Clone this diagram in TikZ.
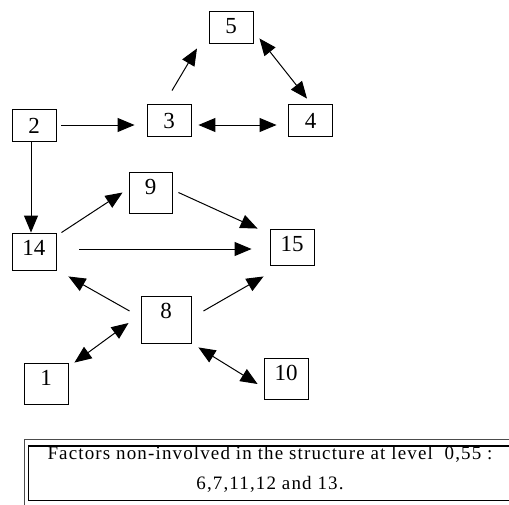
\documentclass[tikz,border=0pt]{standalone}
\usepackage{fontspec}
\setmainfont{Liberation Serif}
\newfontfamily\notefont[LetterSpace=6]{Liberation Serif}
\usetikzlibrary{arrows.meta}

\begin{document}
\begin{tikzpicture} [x=1pt, y=-1pt,
  factor/.style={draw, line width=.9pt, font=\fontsize{23}{27}\selectfont, minimum width=44pt, inner xsep=0pt, inner ysep=7pt, text height=15pt, text depth=#1},
  factor/.default=3pt,
  link/.style={line width=1pt, -{Triangle[length=17pt, width=14pt]}},
  both/.style={line width=1pt, {Triangle[length=17pt, width=14pt]}-{Triangle[length=17pt, width=14pt]}},
  note/.style={draw, line width=1.6pt, minimum width=483.4pt, minimum height=52pt, inner sep=0pt, align=center, font=\notefont\fontsize{19}{30}\selectfont}]
\useasboundingbox (0,0) rectangle (509,504);
\clip (0,0) rectangle (509,504);

% factors
\node[factor] (n5) at (231,27) {5};
\node[factor=1pt, text height=17pt] (n2) at (34,125) {2};
\node[factor=1pt, text height=17pt] (n3) at (169,120) {3};
\node[factor=1pt, text height=17pt] (n4) at (310.5,120) {4};
\node[factor=12pt, minimum width=43pt] (n9) at (150.5,192.5) {9};
\node[factor=8pt] (n14) at (34,251.5) {14};
\node[factor=7pt] (n15) at (292,247) {15};
\node[factor=18pt, minimum width=50pt] (n8) at (166,319.5) {8};
\node[factor=12pt] (n1) at (46,383.5) {1};
\node[factor=12pt] (n10) at (286,378.5) {10};

% links
\draw[link] ([xshift=5pt]n2.east) -- ([xshift=-12pt, yshift=-5pt]n3.west);
\draw[both] ([xshift=7pt, yshift=-5pt]n3.east) -- ([xshift=-11.5pt, yshift=-5pt]n4.west);
\draw[link] ([xshift=3pt, yshift=13pt]n3.north) -- ([xshift=-34pt, yshift=-5pt]n5.south);
\draw[both] ([xshift=6pt, yshift=5pt]n5.south east) -- ([xshift=-3.5pt, yshift=5pt]n4.north);
\draw[link] ([xshift=-3pt]n2.south) -- ([xshift=-3pt]n14.north);
\draw[link] ([xshift=5pt]n14.north east) -- ([xshift=-6pt]n9.west);
\draw[link] ([xshift=6pt]n9.east) -- ([xshift=-12pt]n15.north west);
\draw[link] ([xshift=23pt, yshift=2.5pt]n14.east) -- ([xshift=-18pt, yshift=-2pt]n15.west);
\draw[link] ([xshift=-11pt, yshift=8.5pt]n8.west) -- ([xshift=12pt, yshift=-6pt]n14.south east);
\draw[link] ([xshift=12pt, yshift=8.5pt]n8.east) -- ([xshift=-6pt, yshift=-11pt]n15.south west);
\draw[both] ([xshift=6pt]n1.north east) -- ([xshift=-12pt, yshift=-3.5pt]n8.west);
\draw[both] ([xshift=7pt, yshift=-4pt]n8.south east) -- ([xshift=-6pt, yshift=-5.5pt]n10.west);

% footnote box
\node[note] (note) at (270,473.3) {Factors non-involved in the structure at level\ \ 0,55 :\\6,7,11,12 and 13.\rule[-11pt]{0pt}{11pt}};
\draw[line width=.7pt, black!70] ([xshift=-3pt, yshift=6.5pt]note.north west) rectangle ([xshift=3pt, yshift=-6.5pt]note.south east);

\end{tikzpicture}
\end{document}
